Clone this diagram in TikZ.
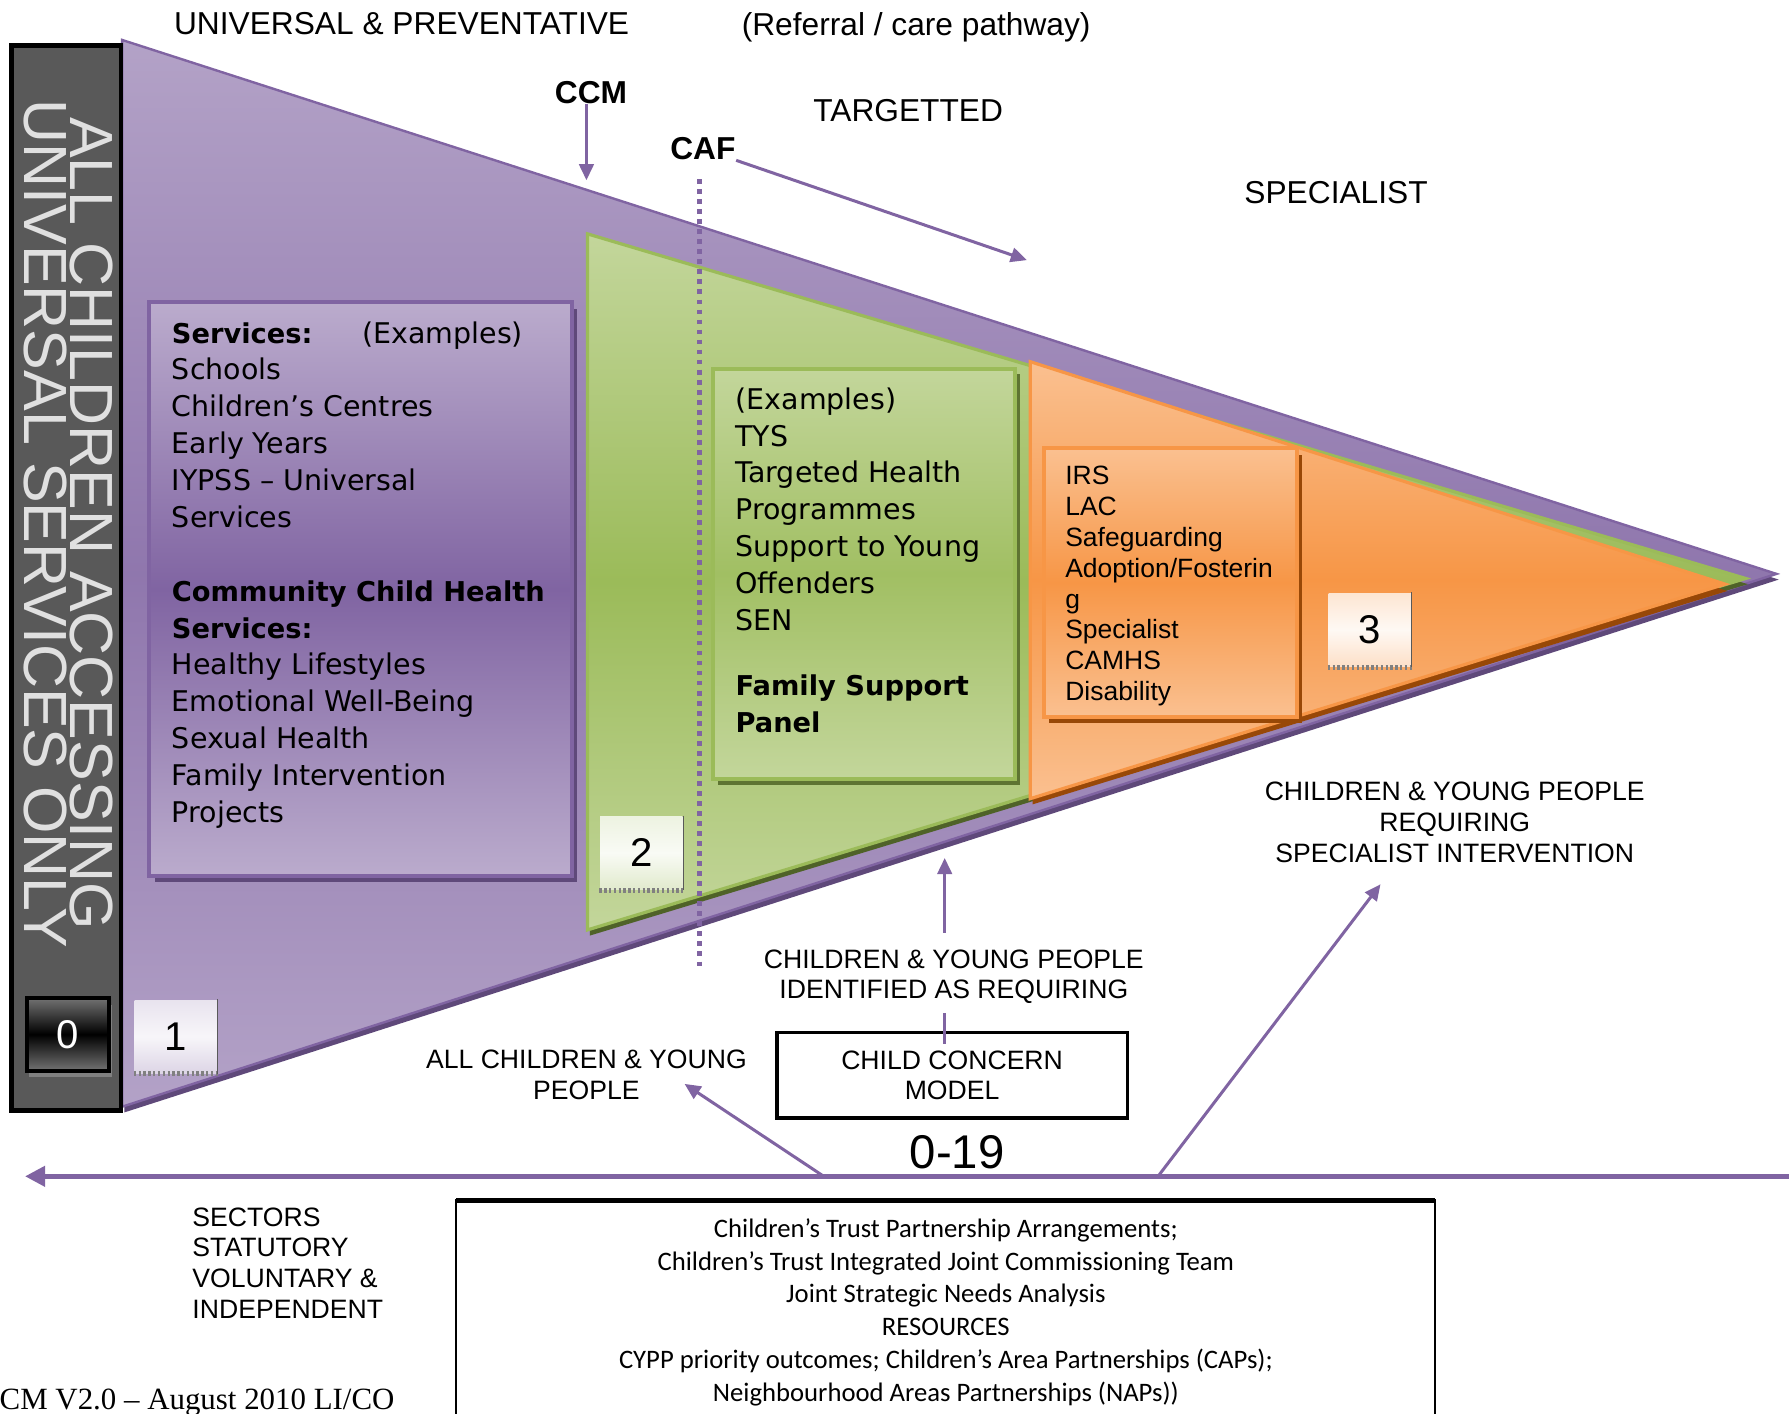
\documentclass[tikz,border=0pt]{standalone}
\usepackage{fontspec}
\setmainfont{Liberation Sans}
\newfontfamily\verdanafont{DejaVu Sans}
\newfontfamily\calibrifont{Carlito}
\newfontfamily\timesfont{Liberation Serif}
\usepackage{tikz}
\usetikzlibrary{arrows.meta,positioning,calc}
\definecolor{purpleLight}{HTML}{B3A2C7}
\definecolor{purpleMid}{HTML}{8064A2}
\definecolor{purpleDark}{HTML}{5F497A}
\definecolor{greenLight}{HTML}{C3D69B}
\definecolor{greenMid}{HTML}{9BBB59}
\definecolor{greenDark}{HTML}{4F6228}
\definecolor{orangeLight}{HTML}{FAC090}
\definecolor{orangeMid}{HTML}{F79646}
\definecolor{orangeDark}{HTML}{984807}
\definecolor{barGray}{HTML}{595959}
\newcommand{\setfs}[2]{\fontsize{#1}{#2}\selectfont}
\newcommand{\bhead}[1]{{\fontsize{6.8pt}{9.19pt}\selectfont\bfseries #1}}

\begin{document}
\begin{tikzpicture}[x=0.01cm, y=-0.01cm,
  lbl/.style={font=\setfs{6.63pt}{7.68pt}, align=center, inner sep=0pt},
  head/.style={font=\setfs{7.9pt}{9pt}, inner sep=0pt},
  boxtext/.style={font=\verdanafont\setfs{7.1pt}{9.19pt}, align=left, anchor=north west, inner sep=0pt},
  numbox/.style={minimum width=0.72cm, minimum height=0.64cm, inner sep=0pt, font=\setfs{10pt}{12pt}},
  arr/.style={-{Triangle[length=4pt,width=3.6pt]}, purpleMid, line width=0.75pt},
]
\useasboundingbox (0,0) rectangle (1568,1239);

% Level 1: universal (purple)
\fill[purpleDark] (109,40) -- (1559,508) -- (109,975) -- cycle;
\draw[purpleMid, line width=0.6pt, top color=purpleLight, bottom color=purpleLight, middle color=purpleMid!70!purpleLight]
  (107,35) -- (1557,503) -- (107,970) -- cycle;

% Side bar
\draw[black, line width=1.2pt, fill=barGray] (10,40) rectangle (106,973);
\node[rotate=-90, align=center, text=white!88!black, font=\setfs{15.2pt}{11.4pt}] (allkids) at (60,459)
  {ALL CHILDREN ACCESSING\\UNIVERSAL SERVICES ONLY};

% Services box
\fill[purpleDark] (136,271) rectangle (506,773);
\draw[purpleMid, line width=1pt, top color=purpleLight!90!white, bottom color=purpleLight!90!white, middle color=purpleMid]
  (131,265) rectangle (501,768);
\node[boxtext] (services) at (150,281) {\bhead{Services:}\hspace{1.75em}(Examples)\\Schools\\Children’s Centres\\Early Years\\IYPSS – Universal\\Services\\[9.19pt]\bhead{Community Child Health}\\\bhead{Services:}\\Healthy Lifestyles\\Emotional Well-Being\\Sexual Health\\Family Intervention\\Projects};

% Level 2: targeted (green)
\fill[greenDark] (517,210) -- (1532,512) -- (517,820) -- cycle;
\draw[greenMid, line width=0.8pt, top color=greenLight, bottom color=greenLight, middle color=greenMid]
  (515,205) -- (1530,507) -- (515,815) -- cycle;
\fill[greenDark!80!greenMid] (629,328) rectangle (894,688);
\draw[greenMid, line width=1pt, top color=greenLight, bottom color=greenLight, middle color=greenMid!85!greenLight]
  (625,323) rectangle (890,683);
\node[boxtext] (targeted) at (644,339) {(Examples)\\TYS\\Targeted Health\\Programmes\\Support to Young\\Offenders\\SEN\\[7.1pt]\bhead{Family Support}\\\bhead{Panel}};

% Level 3: specialist (orange)
\fill[orangeDark] (905,322) -- (1514,518) -- (905,705) -- cycle;
\draw[orangeMid, line width=0.8pt, top color=orangeLight, bottom color=orangeLight, middle color=orangeMid]
  (903,317) -- (1512,512) -- (903,700) -- cycle;
\fill[orangeDark] (919,399) rectangle (1141,634);
\draw[orangeMid, line width=1pt, top color=orangeLight, bottom color=orangeLight, middle color=orangeMid]
  (915,393) rectangle (1137,628);
\node[boxtext, font=\setfs{6.6pt}{7.68pt}] (specialist) at (933,408) {IRS\\LAC\\Safeguarding\\Adoption/Fosterin\\g\\Specialist\\CAMHS\\Disability};

% Level numbers
\fill[gray] (25,881) rectangle (98,944);
\node[numbox, draw=black, line width=1pt, top color=black!55, bottom color=black!55, middle color=black, text=white] (lvlzero) at (59.5,906.5) {0};
\node[numbox, top color=white!70!purpleLight, bottom color=white!55!purpleLight, middle color=white!90!purpleLight] (lvlone) at (154,908.5) {1};
\node[numbox, top color=white!70!greenLight, bottom color=white!50!greenLight, middle color=white!90!greenLight] (lvltwo) at (562,747.5) {2};
\node[numbox, top color=white!60!orangeLight, bottom color=white!50!orangeLight, middle color=white!90!orangeLight] (lvlthree) at (1200.5,552) {3};
\foreach \n in {lvlone,lvltwo,lvlthree}{
  \draw[gray, line width=1.2pt, dash pattern=on 0.6pt off 0.6pt] (\n.south west) -- (\n.south east);
  \draw[gray!70!black, line width=0.3pt] (\n.north east) -- (\n.south east);
}

% CAF threshold
\draw[purpleMid, line width=1.4pt, dash pattern=on 1.2pt off 1.3pt] (613,157) -- (613,850);

% Top labels
\node[head] (universal) at (352,21) {UNIVERSAL \& PREVENTATIVE};
\node[head] (referral) at (803,24) {(Referral / care pathway)};
\node[head, font=\bfseries\setfs{7.9pt}{9pt}] (ccm) at (518,81) {CCM};
\node[head] (targetted) at (796,97) {TARGETTED};
\node[head, font=\bfseries\setfs{7.9pt}{9pt}] (caf) at (616,130) {CAF};
\node[head] (speclbl) at (1171,169) {SPECIALIST};

% Bottom labels
\node[lbl] (needspec) at (1275,721) {CHILDREN \& YOUNG PEOPLE\\REQUIRING\\SPECIALIST INTERVENTION};
\node[lbl] (ident) at (836,856) {CHILDREN \& YOUNG PEOPLE\\IDENTIFIED AS REQUIRING};
\node[lbl] (allcyp) at (514,942) {ALL CHILDREN \& YOUNG\\PEOPLE};
\node[lbl, draw, line width=0.9pt, minimum width=3.07cm, minimum height=0.75cm] (concern) at (834.5,942.5) {CHILD CONCERN\\MODEL};
\node[font=\setfs{11.8pt}{14pt}, inner sep=0pt] (agerange) at (839,1010) {0-19};
\node[lbl, align=left, anchor=west] (sectors) at (168,1107) {SECTORS\\STATUTORY\\VOLUNTARY \&\\INDEPENDENT};
\node[font=\timesfont\setfs{7.7pt}{9pt}, anchor=west, inner sep=0pt] (version) at (-1,1229) {CM V2.0 – August 2010 LI/CO};

% Resources box
\draw[black, line width=0.5pt] (400,1250) -- (400,1052) -- (1258,1052) -- (1258,1250);
\draw[black, line width=1.2pt] (400,1052) -- (1258,1052);
\node[font=\calibrifont\setfs{6.65pt}{8.17pt}, align=center, inner sep=0pt] (resources) at (829,1150)
  {Children’s Trust Partnership Arrangements;\\Children’s Trust Integrated Joint Commissioning Team\\Joint Strategic Needs Analysis\\RESOURCES\\CYPP priority outcomes; Children’s Area Partnerships (CAPs);\\Neighbourhood Areas Partnerships (NAPs))};

% Arrows
\coordinate (ccmTip) at (514,158);
\coordinate (cafTip) at (900,228);
\coordinate (identTip) at (828,752);
\coordinate (concernIn) at (828,915);
\coordinate (axisL) at (22,1031);
\coordinate (axisR) at (1592,1031);
\coordinate (axisA) at (722,1031);
\coordinate (axisB) at (1015,1031);
\coordinate (tipAll) at (600,950);
\coordinate (tipSpec) at (1210,775);
\draw[arr] (ccm.south -| ccmTip) -- (ccmTip);
\draw[arr] (caf.south east) -- (cafTip);
\draw[arr] ([yshift=4pt]ident.north -| identTip) -- (identTip);
\draw[purpleMid, line width=0.75pt] (concernIn) -- ([yshift=-2pt]ident.south -| concernIn);
\draw[purpleMid, line width=1.1pt, {Triangle[length=5pt,width=5pt]}-{Triangle[length=5pt,width=5pt]}] (axisR) -- (axisL);
\draw[arr] (axisA) -- (tipAll);
\draw[arr] (axisB) -- (tipSpec);
\end{tikzpicture}
\end{document}
